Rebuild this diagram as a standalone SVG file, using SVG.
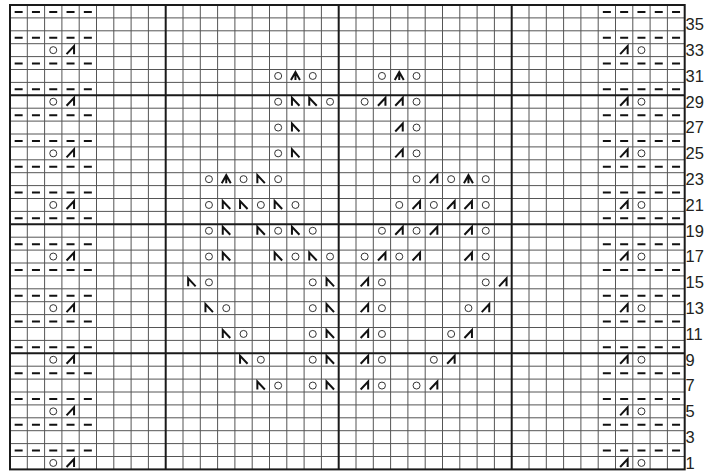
<svg xmlns="http://www.w3.org/2000/svg" width="717" height="472" viewBox="0 0 717 472">
<style>
.thin{stroke:#555;stroke-width:1;fill:none}
.heavy{stroke:#1a1a1a;stroke-width:2;fill:none}
.yo{fill:none;stroke:#333;stroke-width:1}
.dec{fill:none;stroke:#111;stroke-width:2;stroke-linejoin:miter}
.dash{fill:none;stroke:#111;stroke-width:2;stroke-dasharray:8 9.3}
.lbl{font-family:"Liberation Sans",Arial,sans-serif;font-size:16.5px;fill:#231f20}
</style>
<defs>
<circle id="o" r="3.5" class="yo"/>
<path id="k" d="M-4 4L3.5-4V4" class="dec"/>
<path id="s" d="M-3.5 4V-4L4 4" class="dec"/>
<path id="c" d="M-4.5 4L0-4L4.5 4M0-4V4" class="dec"/>
<path id="dr" d="M0 0H77.2" class="dash"/>
</defs>
<rect width="717" height="472" fill="#fff"/>
<g id="grid">
<path class="thin" d="M27.3 5V469.4M44.6 5V469.4M61.9 5V469.4M79.2 5V469.4M96.5 5V469.4M113.8 5V469.4M131.1 5V469.4M148.4 5V469.4M183 5V469.4M200.3 5V469.4M217.6 5V469.4M234.9 5V469.4M252.2 5V469.4M269.5 5V469.4M286.8 5V469.4M304.1 5V469.4M321.4 5V469.4M356 5V469.4M373.3 5V469.4M390.6 5V469.4M407.9 5V469.4M425.2 5V469.4M442.5 5V469.4M459.8 5V469.4M477.1 5V469.4M494.4 5V469.4M529 5V469.4M546.3 5V469.4M563.6 5V469.4M580.9 5V469.4M598.2 5V469.4M615.5 5V469.4M632.8 5V469.4M650.1 5V469.4M667.4 5V469.4"/>
<path class="thin" d="M10 17.9H684.7M10 30.8H684.7M10 43.7H684.7M10 56.6H684.7M10 69.5H684.7M10 82.4H684.7M10 108.2H684.7M10 121.1H684.7M10 134H684.7M10 146.9H684.7M10 159.8H684.7M10 172.7H684.7M10 185.6H684.7M10 198.5H684.7M10 211.4H684.7M10 237.2H684.7M10 250.1H684.7M10 263H684.7M10 275.9H684.7M10 288.8H684.7M10 301.7H684.7M10 314.6H684.7M10 327.5H684.7M10 340.4H684.7M10 366.2H684.7M10 379.1H684.7M10 392H684.7M10 404.9H684.7M10 417.8H684.7M10 430.7H684.7M10 443.6H684.7M10 456.5H684.7"/>
<path class="heavy" d="M165.7 5V469.4M338.7 5V469.4M511.7 5V469.4M10 95.3H684.7M10 224.3H684.7M10 353.3H684.7"/>
<rect class="heavy" x="10" y="5" width="674.7" height="464.4"/>
</g>
<g id="purl-rows">
<use href="#dr" x="14.65" y="11.95"/><use href="#dr" x="602.85" y="11.95"/>
<use href="#dr" x="14.65" y="37.75"/><use href="#dr" x="602.85" y="37.75"/>
<use href="#dr" x="14.65" y="63.55"/><use href="#dr" x="602.85" y="63.55"/>
<use href="#dr" x="14.65" y="89.35"/><use href="#dr" x="602.85" y="89.35"/>
<use href="#dr" x="14.65" y="115.15"/><use href="#dr" x="602.85" y="115.15"/>
<use href="#dr" x="14.65" y="140.95"/><use href="#dr" x="602.85" y="140.95"/>
<use href="#dr" x="14.65" y="166.75"/><use href="#dr" x="602.85" y="166.75"/>
<use href="#dr" x="14.65" y="192.55"/><use href="#dr" x="602.85" y="192.55"/>
<use href="#dr" x="14.65" y="218.35"/><use href="#dr" x="602.85" y="218.35"/>
<use href="#dr" x="14.65" y="244.15"/><use href="#dr" x="602.85" y="244.15"/>
<use href="#dr" x="14.65" y="269.95"/><use href="#dr" x="602.85" y="269.95"/>
<use href="#dr" x="14.65" y="295.75"/><use href="#dr" x="602.85" y="295.75"/>
<use href="#dr" x="14.65" y="321.55"/><use href="#dr" x="602.85" y="321.55"/>
<use href="#dr" x="14.65" y="347.35"/><use href="#dr" x="602.85" y="347.35"/>
<use href="#dr" x="14.65" y="373.15"/><use href="#dr" x="602.85" y="373.15"/>
<use href="#dr" x="14.65" y="398.95"/><use href="#dr" x="602.85" y="398.95"/>
<use href="#dr" x="14.65" y="424.75"/><use href="#dr" x="602.85" y="424.75"/>
<use href="#dr" x="14.65" y="450.55"/><use href="#dr" x="602.85" y="450.55"/>
</g>
<g id="row-33" transform="translate(0,50.15)"><use href="#o" x="53.25"/><use href="#k" x="70.55"/><use href="#k" x="624.15"/><use href="#o" x="641.45"/></g>
<g id="row-31" transform="translate(0,75.95)"><use href="#o" x="278.15"/><use href="#c" x="295.45"/><use href="#o" x="312.75"/><use href="#o" x="381.95"/><use href="#c" x="399.25"/><use href="#o" x="416.55"/></g>
<g id="row-29" transform="translate(0,101.75)"><use href="#o" x="53.25"/><use href="#k" x="70.55"/><use href="#k" x="624.15"/><use href="#o" x="641.45"/><use href="#o" x="278.15"/><use href="#s" x="295.45"/><use href="#s" x="312.75"/><use href="#o" x="330.05"/><use href="#o" x="364.65"/><use href="#k" x="381.95"/><use href="#k" x="399.25"/><use href="#o" x="416.55"/></g>
<g id="row-27" transform="translate(0,127.55)"><use href="#o" x="278.15"/><use href="#s" x="295.45"/><use href="#k" x="399.25"/><use href="#o" x="416.55"/></g>
<g id="row-25" transform="translate(0,153.35)"><use href="#o" x="53.25"/><use href="#k" x="70.55"/><use href="#k" x="624.15"/><use href="#o" x="641.45"/><use href="#o" x="278.15"/><use href="#s" x="295.45"/><use href="#k" x="399.25"/><use href="#o" x="416.55"/></g>
<g id="row-23" transform="translate(0,179.15)"><use href="#o" x="208.95"/><use href="#c" x="226.25"/><use href="#o" x="243.55"/><use href="#s" x="260.85"/><use href="#o" x="278.15"/><use href="#o" x="416.55"/><use href="#k" x="433.85"/><use href="#o" x="451.15"/><use href="#c" x="468.45"/><use href="#o" x="485.75"/></g>
<g id="row-21" transform="translate(0,204.95)"><use href="#o" x="53.25"/><use href="#k" x="70.55"/><use href="#k" x="624.15"/><use href="#o" x="641.45"/><use href="#o" x="208.95"/><use href="#s" x="226.25"/><use href="#s" x="243.55"/><use href="#o" x="260.85"/><use href="#s" x="278.15"/><use href="#o" x="295.45"/><use href="#o" x="399.25"/><use href="#k" x="416.55"/><use href="#o" x="433.85"/><use href="#k" x="451.15"/><use href="#k" x="468.45"/><use href="#o" x="485.75"/></g>
<g id="row-19" transform="translate(0,230.75)"><use href="#o" x="208.95"/><use href="#s" x="226.25"/><use href="#s" x="260.85"/><use href="#o" x="278.15"/><use href="#s" x="295.45"/><use href="#o" x="312.75"/><use href="#o" x="381.95"/><use href="#k" x="399.25"/><use href="#o" x="416.55"/><use href="#k" x="433.85"/><use href="#k" x="468.45"/><use href="#o" x="485.75"/></g>
<g id="row-17" transform="translate(0,256.55)"><use href="#o" x="53.25"/><use href="#k" x="70.55"/><use href="#k" x="624.15"/><use href="#o" x="641.45"/><use href="#o" x="208.95"/><use href="#s" x="226.25"/><use href="#s" x="278.15"/><use href="#o" x="295.45"/><use href="#s" x="312.75"/><use href="#o" x="330.05"/><use href="#o" x="364.65"/><use href="#k" x="381.95"/><use href="#o" x="399.25"/><use href="#k" x="416.55"/><use href="#k" x="468.45"/><use href="#o" x="485.75"/></g>
<g id="row-15" transform="translate(0,282.35)"><use href="#s" x="191.65"/><use href="#o" x="208.95"/><use href="#o" x="312.75"/><use href="#s" x="330.05"/><use href="#k" x="364.65"/><use href="#o" x="381.95"/><use href="#o" x="485.75"/><use href="#k" x="503.05"/></g>
<g id="row-13" transform="translate(0,308.15)"><use href="#o" x="53.25"/><use href="#k" x="70.55"/><use href="#k" x="624.15"/><use href="#o" x="641.45"/><use href="#s" x="208.95"/><use href="#o" x="226.25"/><use href="#o" x="312.75"/><use href="#s" x="330.05"/><use href="#k" x="364.65"/><use href="#o" x="381.95"/><use href="#o" x="468.45"/><use href="#k" x="485.75"/></g>
<g id="row-11" transform="translate(0,333.95)"><use href="#s" x="226.25"/><use href="#o" x="243.55"/><use href="#o" x="312.75"/><use href="#s" x="330.05"/><use href="#k" x="364.65"/><use href="#o" x="381.95"/><use href="#o" x="451.15"/><use href="#k" x="468.45"/></g>
<g id="row-9" transform="translate(0,359.75)"><use href="#o" x="53.25"/><use href="#k" x="70.55"/><use href="#k" x="624.15"/><use href="#o" x="641.45"/><use href="#s" x="243.55"/><use href="#o" x="260.85"/><use href="#o" x="312.75"/><use href="#s" x="330.05"/><use href="#k" x="364.65"/><use href="#o" x="381.95"/><use href="#o" x="433.85"/><use href="#k" x="451.15"/></g>
<g id="row-7" transform="translate(0,385.55)"><use href="#s" x="260.85"/><use href="#o" x="278.15"/><use href="#o" x="312.75"/><use href="#s" x="330.05"/><use href="#k" x="364.65"/><use href="#o" x="381.95"/><use href="#o" x="416.55"/><use href="#k" x="433.85"/></g>
<g id="row-5" transform="translate(0,411.35)"><use href="#o" x="53.25"/><use href="#k" x="70.55"/><use href="#k" x="624.15"/><use href="#o" x="641.45"/></g>
<g id="row-1" transform="translate(0,462.95)"><use href="#o" x="53.25"/><use href="#k" x="70.55"/><use href="#k" x="624.15"/><use href="#o" x="641.45"/></g>
<g id="row-numbers" class="lbl">
<text x="685.5" y="30.25">35</text>
<text x="685.5" y="56.05">33</text>
<text x="685.5" y="81.85">31</text>
<text x="685.5" y="107.65">29</text>
<text x="685.5" y="133.45">27</text>
<text x="685.5" y="159.25">25</text>
<text x="685.5" y="185.05">23</text>
<text x="685.5" y="210.85">21</text>
<text x="685.5" y="236.65">19</text>
<text x="685.5" y="262.45">17</text>
<text x="685.5" y="288.25">15</text>
<text x="685.5" y="314.05">13</text>
<text x="685.5" y="339.85">11</text>
<text x="685.5" y="365.65">9</text>
<text x="685.5" y="391.45">7</text>
<text x="685.5" y="417.25">5</text>
<text x="685.5" y="443.05">3</text>
<text x="685.5" y="468.85">1</text>
</g>
</svg>
